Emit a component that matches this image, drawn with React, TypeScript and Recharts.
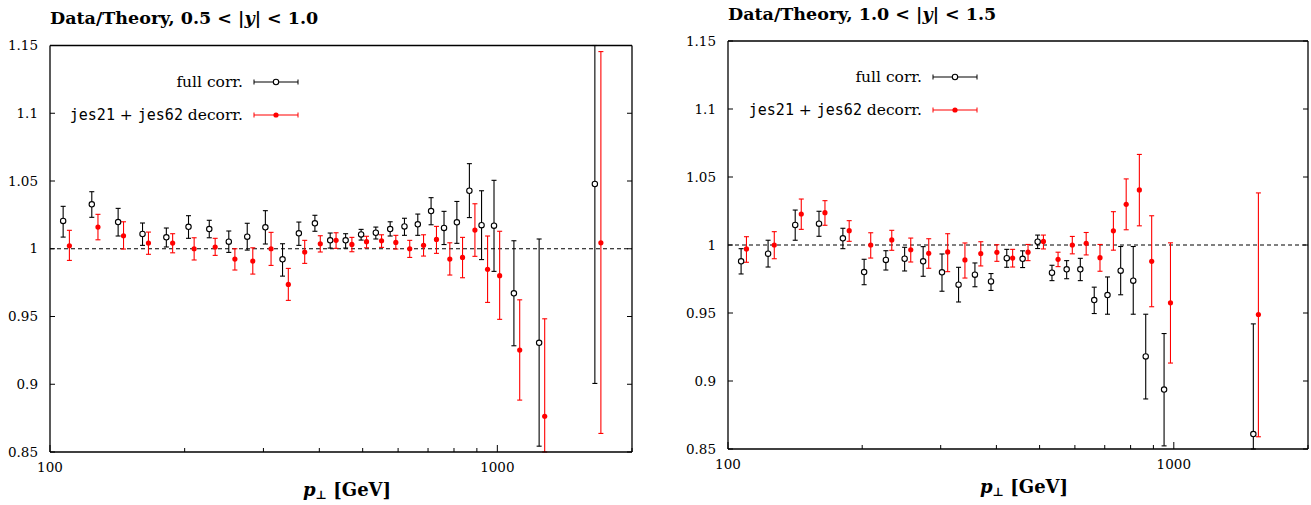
import {
  ComposedChart,
  ErrorBar,
  ReferenceLine,
  Scatter,
  XAxis,
  YAxis,
} from "recharts";

// 0.5 < |y| < 1.0 : full correlation
const ptFullA = [107, 124, 142, 161, 182, 204, 227, 251, 276, 303, 331, 360, 391, 423, 458, 496, 535, 576, 620, 664, 711, 760, 812, 866, 922, 983, 1089, 1240, 1652];
const ratioFullA = [1.0205, 1.0328, 1.0197, 1.0109, 1.0084, 1.0162, 1.0145, 1.0052, 1.0089, 1.0158, 0.9922, 1.0114, 1.0188, 1.0062, 1.0062, 1.0106, 1.0118, 1.0145, 1.0165, 1.018, 1.0278, 1.0154, 1.0195, 1.0428, 1.0174, 1.017, 0.9671, 0.9306, 1.0478];
const loFullA = [1.0086, 1.0232, 1.0094, 1.0025, 1.0013, 1.0077, 1.0081, 0.9973, 0.999, 1.0035, 0.9798, 1.0025, 1.0129, 1.0005, 1.0005, 1.0064, 1.0072, 1.0094, 1.0099, 1.0099, 1.0177, 1.0031, 1.004, 1.023, 0.992, 0.9833, 0.9284, 0.8543, 0.9006];
const hiFullA = [1.0313, 1.0421, 1.0298, 1.019, 1.0153, 1.0244, 1.021, 1.0131, 1.0188, 1.0281, 1.0037, 1.0197, 1.0247, 1.0116, 1.0111, 1.0143, 1.016, 1.0199, 1.0225, 1.0256, 1.0377, 1.0276, 1.0349, 1.0628, 1.0428, 1.0505, 1.0059, 1.0072, 1.2];

// 0.5 < |y| < 1.0 : jes21 + jes62 decorrelated
const ptDecA = [110.5, 128, 146, 166, 188, 210, 234, 259, 284, 312, 341, 371, 402, 436, 473, 510, 551, 593, 637, 684, 731, 783, 836, 891, 951, 1012, 1122, 1276, 1704];
const ratioDecA = [1.0022, 1.016, 1.0096, 1.0042, 1.0042, 1.0, 1.0013, 0.9924, 0.9909, 1.0, 0.9737, 0.9976, 1.0037, 1.0062, 1.0032, 1.0052, 1.0059, 1.0047, 1.0, 1.0025, 1.0069, 0.9924, 0.9936, 1.0138, 0.9848, 0.9801, 0.9252, 0.8764, 1.0044];
const loDecA = [0.9914, 1.0066, 0.9998, 0.9959, 0.997, 0.9917, 0.9951, 0.9843, 0.9813, 0.9877, 0.9619, 0.9892, 0.9976, 1.0003, 0.9978, 1.0007, 1.001, 0.9998, 0.9936, 0.9946, 0.9966, 0.9806, 0.9786, 0.9944, 0.9604, 0.9479, 0.8883, 0.84, 0.8637];
const hiDecA = [1.0136, 1.0254, 1.0199, 1.0123, 1.0111, 1.0081, 1.0077, 1.0, 1.0007, 1.0121, 0.9855, 1.0062, 1.0096, 1.0118, 1.0084, 1.0092, 1.0103, 1.0099, 1.0062, 1.0103, 1.0165, 1.0044, 1.0084, 1.0332, 1.0094, 1.0129, 0.9623, 0.9483, 1.1455];

// 1.0 < |y| < 1.5 : full correlation
const ptFullB = [107, 123, 141.5, 160, 181, 202, 226, 249, 274, 302, 329, 358, 389, 422, 458, 495, 533, 575, 617, 663, 710, 760, 811, 865, 951, 1508];
const ratioFullB = [0.988, 0.9936, 1.0147, 1.0157, 1.0049, 0.9801, 0.989, 0.9899, 0.988, 0.9799, 0.9708, 0.9782, 0.9732, 0.9903, 0.9898, 1.0024, 0.9796, 0.9821, 0.9821, 0.9595, 0.9632, 0.9811, 0.9738, 0.9181, 0.8937, 0.861];
const loFullB = [0.9787, 0.9838, 1.0035, 1.0064, 0.9973, 0.9708, 0.9816, 0.9809, 0.977, 0.966, 0.9581, 0.9693, 0.9666, 0.9836, 0.9834, 0.9974, 0.9738, 0.9752, 0.9738, 0.9496, 0.9491, 0.9634, 0.9491, 0.8868, 0.8523, 0.84];
const hiFullB = [0.9973, 1.0035, 1.0257, 1.0248, 1.0123, 0.9895, 0.9958, 0.9983, 0.9988, 0.9934, 0.9836, 0.9868, 0.979, 0.9968, 0.9957, 1.0073, 0.9851, 0.9885, 0.9902, 0.969, 0.9765, 0.9989, 0.9989, 0.9491, 0.9349, 0.942];

// 1.0 < |y| < 1.5 : jes21 + jes62 decorrelated
const ptDecB = [110, 127, 146, 165, 187, 209, 233, 257, 282, 311, 340, 369, 401, 435, 471, 510, 550, 592, 636, 683, 732, 782, 837, 892, 983, 1548];
const ratioDecB = [0.9971, 1.0, 1.0228, 1.0238, 1.0105, 1.0, 1.0037, 0.9965, 0.9939, 0.9949, 0.989, 0.9936, 0.9946, 0.9904, 0.9947, 1.0026, 0.9895, 1.0, 1.0013, 0.9907, 1.0104, 1.0299, 1.0405, 0.988, 0.9575, 0.9489];
const loDecB = [0.9873, 0.9899, 1.0115, 1.0145, 1.0027, 0.9904, 0.9961, 0.9875, 0.9829, 0.9804, 0.9757, 0.9846, 0.988, 0.9838, 0.9885, 0.9971, 0.9841, 0.9935, 0.9927, 0.9807, 0.9962, 1.0112, 1.0141, 0.9546, 0.9132, 0.859];
const hiDecB = [1.0061, 1.0098, 1.0338, 1.0326, 1.0179, 1.009, 1.0108, 1.0051, 1.0046, 1.0083, 1.0015, 1.0024, 1.0002, 0.9968, 1.0004, 1.0073, 0.9947, 1.0063, 1.0092, 1.0004, 1.0245, 1.0486, 1.0666, 1.0215, 1.0016, 1.0383];

const xTicks = [100, 200, 300, 400, 500, 600, 700, 800, 900, 1000, 2000];
const xTickLabels = [100, 1000];
const yTicks = [0.85, 0.9, 0.95, 1, 1.05, 1.1, 1.15];
const Y_MIN = 0.85;
const Y_MAX = 1.15;

const SERIF = "'DejaVu Serif', 'Liberation Serif', serif";
const MONO = "'DejaVu Sans Mono', 'Liberation Mono', monospace";
const RED = "#ff0000";

// error bars are cut at the frame, like the plot window does
function rows(pt: number[], ratio: number[], lo: number[], hi: number[]) {
  return pt.map((p, i) => {
    const low = Math.max(lo[i], Y_MIN);
    const high = Math.min(hi[i], Y_MAX);
    return { pt: p, ratio: ratio[i], err: [ratio[i] - low, high - ratio[i]] };
  });
}

function OpenDot(props: any) {
  return <circle cx={props.cx} cy={props.cy} r={2.7} fill="#fff" stroke="#000" strokeWidth={1.1} />;
}

function RedDot(props: any) {
  return <circle cx={props.cx} cy={props.cy} r={2.6} fill={RED} stroke="none" />;
}

function BottomTick({ x, y, payload }: any) {
  const major = xTickLabels.includes(payload.value);
  return (
    <g>
      <line x1={x} x2={x} y1={y} y2={y - (major ? 7 : 4)} stroke="#000" />
      {major && (
        <text x={x} y={y + 20} textAnchor="middle" fontFamily={SERIF} fontSize={13.5} fill="#000">
          {payload.value}
        </text>
      )}
    </g>
  );
}

function TopTick({ x, y, payload }: any) {
  const major = xTickLabels.includes(payload.value);
  return <line x1={x} x2={x} y1={y} y2={y + (major ? 7 : 4)} stroke="#000" />;
}

function LeftTick({ x, y, payload }: any) {
  return (
    <g>
      <line x1={x} x2={x + 5} y1={y} y2={y} stroke="#000" />
      <text x={x - 12} y={y} dy="0.35em" textAnchor="end" fontFamily={SERIF} fontSize={13.5} fill="#000">
        {String(payload.value)}
      </text>
    </g>
  );
}

function RightTick({ x, y }: any) {
  return <line x1={x} x2={x - 5} y1={y} y2={y} stroke="#000" />;
}

type PanelProps = {
  left: number;
  width: number;
  plotLeft: number;
  plotRight: number;
  plotTop: number;
  plotBottom: number;
  range: [string, string];
  full: ReturnType<typeof rows>;
  dec: ReturnType<typeof rows>;
  titleY: number;
  legendRight: number;
  legendY: number;
};

function LegendSample({ x, y, color, filled }: { x: number; y: number; color: string; filled: boolean }) {
  return (
    <g stroke={color}>
      <line x1={x} x2={x + 44} y1={y} y2={y} strokeWidth={1.1} />
      <line x1={x} x2={x} y1={y - 2.5} y2={y + 2.5} />
      <line x1={x + 44} x2={x + 44} y1={y - 2.5} y2={y + 2.5} />
      {filled ? (
        <circle cx={x + 22} cy={y} r={2.6} fill={color} stroke="none" />
      ) : (
        <circle cx={x + 22} cy={y} r={2.7} fill="#fff" strokeWidth={1.1} />
      )}
    </g>
  );
}

function Panel(p: PanelProps) {
  const H = 505;
  const xAxisH = 30;
  const axisLine = { stroke: "#000", strokeWidth: 1.3 };
  return (
    <div style={{ position: "absolute", left: p.left, top: 0, width: p.width, height: H }}>
      <ComposedChart
        width={p.width}
        height={H}
        margin={{
          top: p.plotTop - 1,
          right: p.width - p.plotRight - 1,
          bottom: H - p.plotBottom - xAxisH,
          left: 0,
        }}
      >
        <XAxis
          dataKey="pt"
          type="number"
          scale="log"
          domain={[100, 2000]}
          allowDataOverflow
          ticks={xTicks}
          interval={0}
          tickSize={0}
          tickMargin={0}
          height={xAxisH}
          axisLine={axisLine}
          tickLine={false}
          tick={<BottomTick />}
        />
        <XAxis
          xAxisId="top"
          orientation="top"
          type="number"
          scale="log"
          domain={[100, 2000]}
          allowDataOverflow
          ticks={xTicks}
          interval={0}
          tickSize={0}
          tickMargin={0}
          height={1}
          axisLine={axisLine}
          tickLine={false}
          tick={<TopTick />}
        />
        <YAxis
          dataKey="ratio"
          type="number"
          domain={[Y_MIN, Y_MAX]}
          allowDataOverflow
          ticks={yTicks}
          interval={0}
          tickSize={0}
          tickMargin={0}
          width={p.plotLeft}
          axisLine={axisLine}
          tickLine={false}
          tick={<LeftTick />}
        />
        <YAxis
          yAxisId="right"
          orientation="right"
          type="number"
          domain={[Y_MIN, Y_MAX]}
          allowDataOverflow
          ticks={yTicks}
          interval={0}
          tickSize={0}
          tickMargin={0}
          width={1}
          axisLine={axisLine}
          tickLine={false}
          tick={<RightTick />}
        />
        <ReferenceLine y={1} stroke="#000" strokeDasharray="4 3" strokeWidth={1} />
        <Scatter data={p.full} dataKey="ratio" shape={<OpenDot />} isAnimationActive={false}>
          <ErrorBar dataKey="err" direction="y" width={2.5} stroke="#000" strokeWidth={1.1} />
        </Scatter>
        <Scatter data={p.dec} dataKey="ratio" shape={<RedDot />} isAnimationActive={false}>
          <ErrorBar dataKey="err" direction="y" width={2.5} stroke={RED} strokeWidth={1.1} />
        </Scatter>
      </ComposedChart>
      <svg
        width={p.width}
        height={H}
        style={{ position: "absolute", left: 0, top: 0, pointerEvents: "none" }}
      >
        <text x={p.plotLeft} y={p.titleY} fontFamily={SERIF} fontWeight="bold" fontSize={17.5} fill="#000">
          Data/Theory, {p.range[0]} &lt; |<tspan fontStyle="italic">y</tspan>| &lt; {p.range[1]}
        </text>
        <text x={p.legendRight} y={p.legendY} dy="0.35em" textAnchor="end" fontFamily={SERIF} fontSize={15.5} fill="#000">
          full corr.
        </text>
        <LegendSample x={p.legendRight + 11} y={p.legendY} color="#000" filled={false} />
        <text x={p.legendRight} y={p.legendY + 33} dy="0.35em" textAnchor="end" fontFamily={SERIF} fontSize={15.5} fill="#000">
          <tspan fontFamily={MONO} fontSize={15}>jes21</tspan> + <tspan fontFamily={MONO} fontSize={15}>jes62</tspan> decorr.
        </text>
        <LegendSample x={p.legendRight + 11} y={p.legendY + 33} color={RED} filled />
        <text
          x={(p.plotLeft + p.plotRight) / 2 + 6}
          y={p.plotBottom + 44}
          textAnchor="middle"
          fontFamily={SERIF}
          fontWeight="bold"
          fontSize={18}
          fill="#000"
        >
          <tspan fontStyle="italic">p</tspan>
          <tspan fontSize={12} dy={3}>⊥</tspan>
          <tspan dy={-3}> [GeV]</tspan>
        </text>
      </svg>
    </div>
  );
}

export default function App() {
  return (
    <div style={{ position: "absolute", left: 0, top: 0, width: 1311, height: 505, background: "#fff" }}>
      <Panel
        left={0}
        width={655}
        plotLeft={50}
        plotRight={632}
        plotTop={45.5}
        plotBottom={452}
        range={["0.5", "1.0"]}
        full={rows(ptFullA, ratioFullA, loFullA, hiFullA)}
        dec={rows(ptDecA, ratioDecA, loDecA, hiDecA)}
        titleY={24}
        legendRight={243}
        legendY={82}
      />
      <Panel
        left={655}
        width={656}
        plotLeft={73}
        plotRight={653}
        plotTop={41}
        plotBottom={449}
        range={["1.0", "1.5"]}
        full={rows(ptFullB, ratioFullB, loFullB, hiFullB)}
        dec={rows(ptDecB, ratioDecB, loDecB, hiDecB)}
        titleY={20}
        legendRight={267}
        legendY={77}
      />
    </div>
  );
}
